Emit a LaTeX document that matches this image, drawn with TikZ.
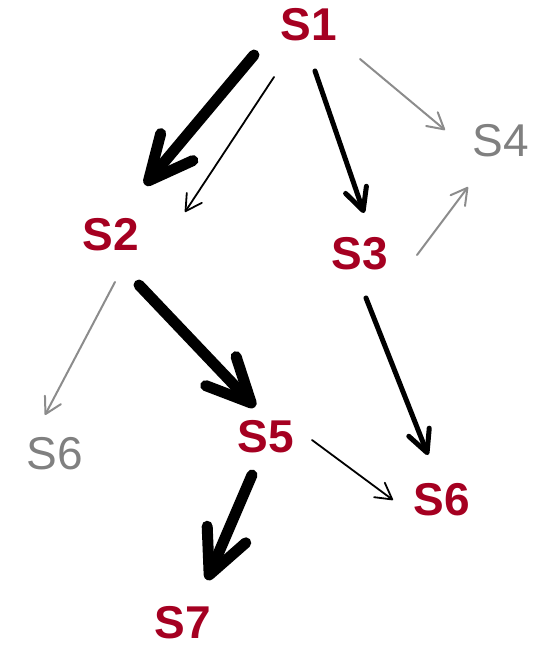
\documentclass[tikz,border=0pt]{standalone}
\usepackage{fontspec}
\setmainfont{Liberation Sans}
\usetikzlibrary{arrows.meta,calc}
\definecolor{sred}{RGB}{165,0,33}
\definecolor{sgray}{RGB}{128,128,128}
\definecolor{agray}{RGB}{140,140,140}
\begin{document}
\begin{tikzpicture}[x=1pt,y=-1pt,
  lab/.style={inner sep=0pt,font=\fontsize{46}{46}\selectfont},
  redlab/.style={lab,text=sred,font=\fontsize{46}{46}\selectfont\bfseries},
  graylab/.style={lab,text=sgray},
  bigarr/.style={line width=11pt,line cap=round,-{Straight Barb[length=44pt,width=42pt,round]}},
  midarr/.style={line width=5pt,line cap=round,-{Straight Barb[length=22pt,width=22pt,round]}},
  thinarr/.style={line width=1.8pt,line cap=round,-{Straight Barb[length=16pt,width=18pt,round]}},
  grayarr/.style={thinarr,draw=agray,line width=2pt}]
\useasboundingbox (0,0) rectangle (537,647);
\node[redlab]  (s1) at (309,25)  {S1};
\node[redlab]  (s2) at (111,235) {S2};
\node[redlab]  (s3) at (360,254) {S3};
\node[graylab] (s4) at (501,141) {S4};
\node[graylab] (s6g) at (55,454) {S6};
\node[redlab]  (s5) at (266,437) {S5};
\node[redlab]  (s6) at (442,500) {S6};
\node[redlab]  (s7) at (183,623) {S7};
\draw[bigarr]  ($(s1)+(-55,30)$) -- ($(s2)+(34,-50)$);
\draw[thinarr] ($(s1)+(-35,52)$) -- ($(s2)+(74,-23)$);
\draw[midarr]  ($(s1)+(6,46)$)   -- ($(s3)+(4,-41)$);
\draw[grayarr] ($(s1)+(51,34)$)  -- ($(s4)+(-56,-11)$);
\draw[grayarr] ($(s3)+(57,1)$)   -- ($(s4)+(-33,46)$);
\draw[grayarr] ($(s2)+(4,47)$)   -- ($(s6g)+(-10,-39)$);
\draw[bigarr]  ($(s2)+(28,50)$)  -- ($(s5)+(-11,-30)$);
\draw[midarr]  ($(s3)+(6,44)$)   -- ($(s6)+(-14,-45)$);
\draw[thinarr] ($(s5)+(46,3)$)   -- ($(s6)+(-49,0)$);
\draw[bigarr]  ($(s5)+(-14,38)$) -- ($(s7)+(24,-43)$);
\end{tikzpicture}
\end{document}
